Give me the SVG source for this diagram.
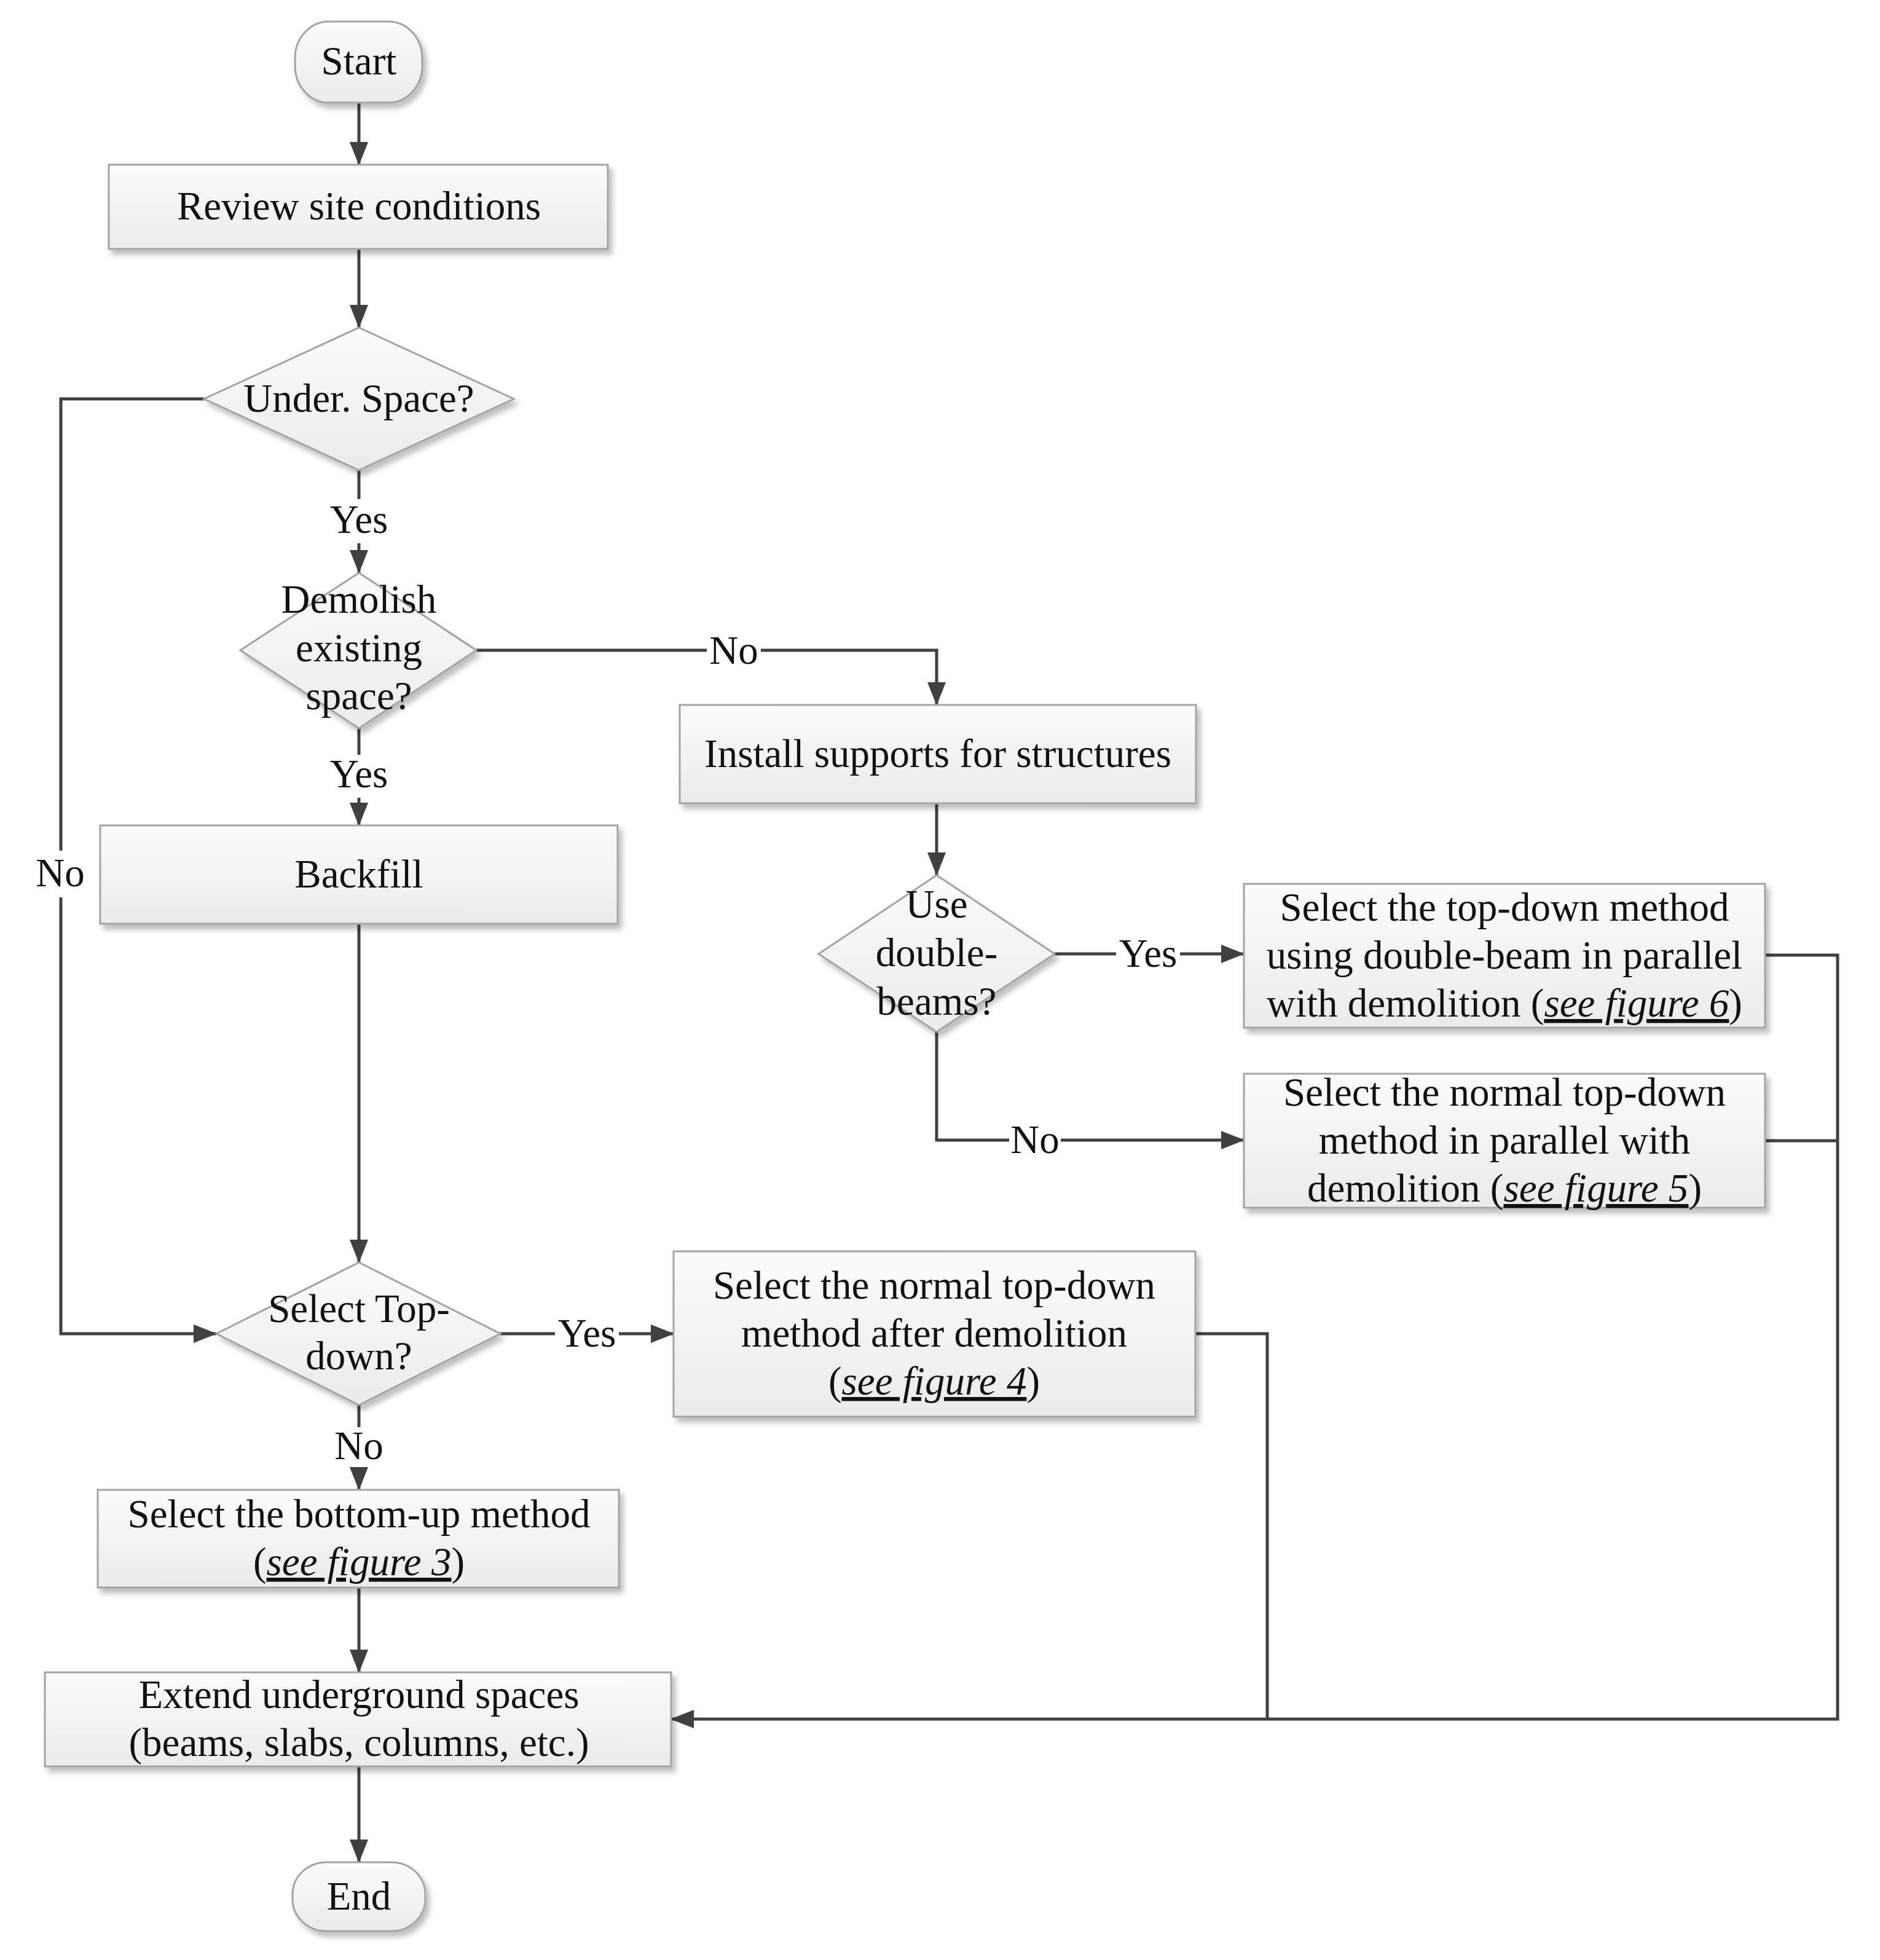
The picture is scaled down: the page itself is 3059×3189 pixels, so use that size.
<svg xmlns="http://www.w3.org/2000/svg" width="3059" height="3189" viewBox="0 0 3059 3189">
<style>
.box{fill:url(#g);stroke:#a3a3a3;stroke-width:3;filter:url(#sh)}
.t{font-family:"Liberation Serif","Times New Roman",serif;font-size:65px;fill:#111;text-anchor:middle}
.lbl{font-family:"Liberation Serif","Times New Roman",serif;font-size:65px;fill:#111;text-anchor:middle}
.c{fill:none;stroke:#404040;stroke-width:5}
.ref{font-style:italic;text-decoration:underline}
</style>
<defs>
<linearGradient id="g" x1="0" y1="0" x2="0" y2="1">
<stop offset="0" stop-color="#fbfbfb"/>
<stop offset="1" stop-color="#ebebeb"/>
</linearGradient>
<filter id="sh" x="-10%" y="-10%" width="125%" height="130%">
<feDropShadow dx="6" dy="8" stdDeviation="4" flood-color="#000" flood-opacity="0.25"/>
</filter>
<marker id="arr" markerUnits="userSpaceOnUse" markerWidth="38" markerHeight="30" refX="37" refY="15" orient="auto">
<path d="M0,0 L38,15 L0,30 z" fill="#404040"/>
</marker>
</defs>
<rect width="3059" height="3189" fill="#fff"/>

<g id="connectors">
<path class="c" d="M584,167 V268" marker-end="url(#arr)"/>
<path class="c" d="M584,405 V533" marker-end="url(#arr)"/>
<path class="c" d="M584,765 V812"/>
<path class="c" d="M584,884 V932" marker-end="url(#arr)"/>
<path class="c" d="M332,649 H99 V1384"/>
<path class="c" d="M99,1460 V2170 H352" marker-end="url(#arr)"/>
<path class="c" d="M775,1058 H1150"/>
<path class="c" d="M1238,1058 H1524 V1147" marker-end="url(#arr)"/>
<path class="c" d="M584,1185 V1228"/>
<path class="c" d="M584,1298 V1343" marker-end="url(#arr)"/>
<path class="c" d="M584,1503 V2054" marker-end="url(#arr)"/>
<path class="c" d="M1524,1307 V1424" marker-end="url(#arr)"/>
<path class="c" d="M1716,1552 H1816"/>
<path class="c" d="M1920,1552 H2024" marker-end="url(#arr)"/>
<path class="c" d="M1524,1679 V1855 H1642"/>
<path class="c" d="M1726,1855 H2024" marker-end="url(#arr)"/>
<path class="c" d="M814,2170 H903"/>
<path class="c" d="M1007,2170 H1096" marker-end="url(#arr)"/>
<path class="c" d="M584,2286 V2322"/>
<path class="c" d="M584,2390 V2424" marker-end="url(#arr)"/>
<path class="c" d="M584,2583 V2721" marker-end="url(#arr)"/>
<path class="c" d="M2872,1554 H2990 V2797 H1092" marker-end="url(#arr)"/>
<path class="c" d="M2872,1856 H2990"/>
<path class="c" d="M1945,2170 H2062 V2797"/>
<path class="c" d="M584,2874 V3030" marker-end="url(#arr)"/>
<text class="lbl" x="584" y="867">Yes</text>
<text class="lbl" x="98" y="1442">No</text>
<text class="lbl" x="1194" y="1080">No</text>
<text class="lbl" x="584" y="1281">Yes</text>
<text class="lbl" x="1868" y="1573">Yes</text>
<text class="lbl" x="1684" y="1876">No</text>
<text class="lbl" x="955" y="2191">Yes</text>
<text class="lbl" x="584" y="2374">No</text>
</g>

<g id="start">
<rect class="box" x="480" y="35" width="207" height="132" rx="55" ry="60"/>
<text class="t" x="584" y="121">Start</text>
</g>
<g id="review">
<rect class="box" x="177" y="268" width="812" height="137"/>
<text class="t" x="584" y="357">Review site conditions</text>
</g>
<g id="under-space">
<polygon class="box" points="584,533 836,649 584,765 332,649"/>
<text class="t" x="584" y="670">Under. Space?</text>
</g>
<g id="demolish">
<polygon class="box" points="584,932 775,1058 584,1185 391,1058"/>
<text class="t" x="584" y="997">Demolish</text>
<text class="t" x="584" y="1076">existing</text>
<text class="t" x="584" y="1154">space?</text>
</g>
<g id="backfill">
<rect class="box" x="163" y="1343" width="842" height="160"/>
<text class="t" x="584" y="1444">Backfill</text>
</g>
<g id="install">
<rect class="box" x="1106" y="1147" width="840" height="160"/>
<text class="t" x="1526" y="1248">Install supports for structures</text>
</g>
<g id="double-beams">
<polygon class="box" points="1524,1424 1716,1552 1524,1679 1332,1552"/>
<text class="t" x="1524" y="1493">Use</text>
<text class="t" x="1524" y="1572">double-</text>
<text class="t" x="1524" y="1651">beams?</text>
</g>
<g id="method-double-beam">
<rect class="box" x="2024" y="1438" width="848" height="234"/>
<text class="t" x="2448" y="1498">Select the top-down method</text>
<text class="t" x="2448" y="1576">using double-beam in parallel</text>
<text class="t" x="2448" y="1654">with demolition (<tspan class="ref">see figure 6</tspan>)</text>
</g>
<g id="method-parallel">
<rect class="box" x="2024" y="1747" width="848" height="218"/>
<text class="t" x="2448" y="1799">Select the normal top-down</text>
<text class="t" x="2448" y="1877">method in parallel with</text>
<text class="t" x="2448" y="1955">demolition (<tspan class="ref">see figure 5</tspan>)</text>
</g>
<g id="select-topdown">
<polygon class="box" points="584,2054 814,2170 584,2286 352,2170"/>
<text class="t" x="584" y="2151">Select Top-</text>
<text class="t" x="584" y="2228">down?</text>
</g>
<g id="method-after">
<rect class="box" x="1096" y="2036" width="849" height="269"/>
<text class="t" x="1520" y="2113">Select the normal top-down</text>
<text class="t" x="1520" y="2191">method after demolition</text>
<text class="t" x="1520" y="2269">(<tspan class="ref">see figure 4</tspan>)</text>
</g>
<g id="bottom-up">
<rect class="box" x="159" y="2424" width="848" height="159"/>
<text class="t" x="584" y="2485">Select the bottom-up method</text>
<text class="t" x="584" y="2563">(<tspan class="ref">see figure 3</tspan>)</text>
</g>
<g id="extend">
<rect class="box" x="73" y="2721" width="1019" height="153"/>
<text class="t" x="584" y="2779">Extend underground spaces</text>
<text class="t" x="584" y="2857">(beams, slabs, columns, etc.)</text>
</g>
<g id="end">
<rect class="box" x="476" y="3030" width="216" height="112" rx="55" ry="52"/>
<text class="t" x="584" y="3107">End</text>
</g>
</svg>
